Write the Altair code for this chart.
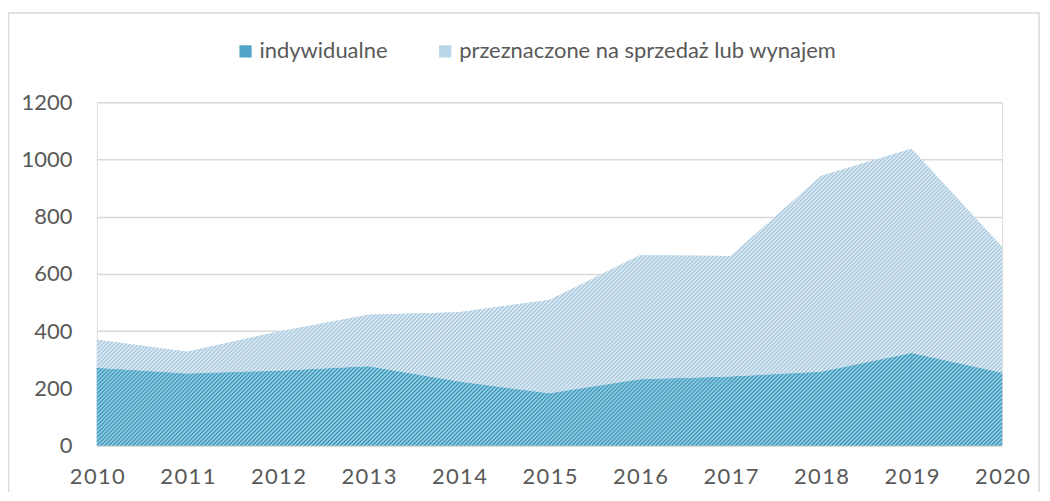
import math
import altair as alt
import pandas as pd

# ---- data ----
years = [2010, 2011, 2012, 2013, 2014, 2015, 2016, 2017, 2018, 2019, 2020]
indywidualne = [272, 252, 262, 277, 224, 183, 232, 242, 258, 324, 255]
sprzedaz_wynajem = [98, 76, 136, 180, 242, 326, 433, 421, 684, 714, 439]
series_names = ["indywidualne", "przeznaczone na sprzedaż lub wynajem"]
y_ticks = [0, 200, 400, 600, 800, 1000, 1200]

# ---- layout / style ----
W, H = 907, 344
YMAX = 1200
FONT = "Lato"
TXT = "#595959"
GRID = "#D9D9D9"
PERIOD = 4.0

df = pd.DataFrame({"rok": years, "ind": indywidualne, "spr": sprzedaz_wynajem})
df["total"] = df["ind"] + df["spr"]

long = pd.DataFrame({
    "rok": years * 2,
    "seria": [series_names[0]] * len(years) + [series_names[1]] * len(years),
    "wartosc": indywidualne + sprzedaz_wynajem,
    "kolejnosc": [0] * len(years) + [1] * len(years),
})


def hatch(x0, w, y_top, h, base, stripe):
    """Soft diagonal '/' hatch as a linear gradient over a bbox, phase-locked to plot coords."""
    r = h / w
    k = (w + h) / (w * (1 + r * r))
    s0 = x0 + y_top
    span = w + h
    stops = []
    m0 = math.floor(s0 / PERIOD) - 1
    m1 = math.ceil((s0 + span) / PERIOD) + 1
    pts = []
    for m in range(m0, m1 + 1):
        pts.append((m * PERIOD, stripe))
        pts.append((m * PERIOD + PERIOD / 2, base))
    for s, c in pts:
        t = (s - s0) / span
        if 0 <= t <= 1:
            stops.append(alt.GradientStop(color=c, offset=round(t, 6)))
    return alt.LinearGradient(gradient="linear", stops=stops, x1=0, y1=0, x2=k, y2=k * r)


def px_y(v):
    return H - v / YMAX * H


xscale = alt.Scale(domain=[2010, 2020], nice=False, zero=False)
yscale = alt.Scale(domain=[0, YMAX], nice=False)

xaxis = alt.Axis(values=years, format="d", title=None, grid=False, domain=False,
                 ticks=False, labelFontSize=22, labelColor=TXT, labelFont=FONT,
                 labelPadding=21, labelFlush=False, labelOverlap=False,
                 labelExpr="join(split(datum.label, ''), '\u200a')")
yaxis = alt.Axis(values=y_ticks, format="d", title=None, grid=True, gridColor=GRID,
                 gridWidth=1.5, domain=False, ticks=False, labelFontSize=22,
                 labelColor=TXT, labelFont=FONT, labelPadding=25)

base = alt.Chart(long).mark_area().encode(
    x=alt.X("rok:Q", scale=xscale, axis=xaxis),
    y=alt.Y("wartosc:Q", stack="zero", scale=yscale, axis=yaxis),
    color=alt.Color("seria:N",
                    scale=alt.Scale(domain=series_names, range=["#4FA4C7", "#B9D6E9"]),
                    legend=alt.Legend(title=None, orient="none", direction="horizontal",
                                      legendX=138, legendY=-62, symbolType="square",
                                      symbolSize=150, symbolStrokeWidth=0,
                                      labelFontSize=22, labelFont=FONT, labelColor=TXT,
                                      labelOffset=3, columnPadding=46, labelLimit=600)),
    order=alt.Order("kolejnosc:Q"),
)

layers = [base]
seg_w = W / (len(years) - 1)
for i in range(len(years) - 1):
    seg = df.iloc[i:i + 2]
    x0 = i * seg_w
    # bottom series segment
    top1 = px_y(seg["ind"].max())
    g1 = hatch(x0, seg_w, top1, H - top1, "#A9DAEA", "#2F8EB5")
    layers.append(alt.Chart(seg).mark_area(fill=g1).encode(
        x=alt.X("rok:Q", scale=xscale),
        y=alt.Y("ind:Q", scale=yscale),
    ))
    # upper series segment
    top2 = px_y(seg["total"].max())
    bot2 = px_y(seg["ind"].min())
    g2 = hatch(x0, seg_w, top2, bot2 - top2, "#EAF2F8", "#9EC3DB")
    layers.append(alt.Chart(seg).mark_area(fill=g2).encode(
        x=alt.X("rok:Q", scale=xscale),
        y=alt.Y("total:Q", scale=yscale),
        y2="ind:Q",
    ))

frame = alt.Chart(alt.Data(values=[{}])).mark_rect(
    fill="transparent", stroke=GRID, strokeWidth=1.5
).encode(x=alt.value(-88.5), x2=alt.value(944), y=alt.value(-89.5), y2=alt.value(420))
layers.append(frame)

chart = alt.layer(*layers).properties(
    width=W, height=H,
    padding={"left": 89, "top": 94, "right": 40, "bottom": 46},
    autosize=alt.AutoSizeParams(type="none"),
).configure_view(stroke=None).configure(font=FONT)

chart.save("out.html", embed_options={"renderer": "svg", "actions": False})
